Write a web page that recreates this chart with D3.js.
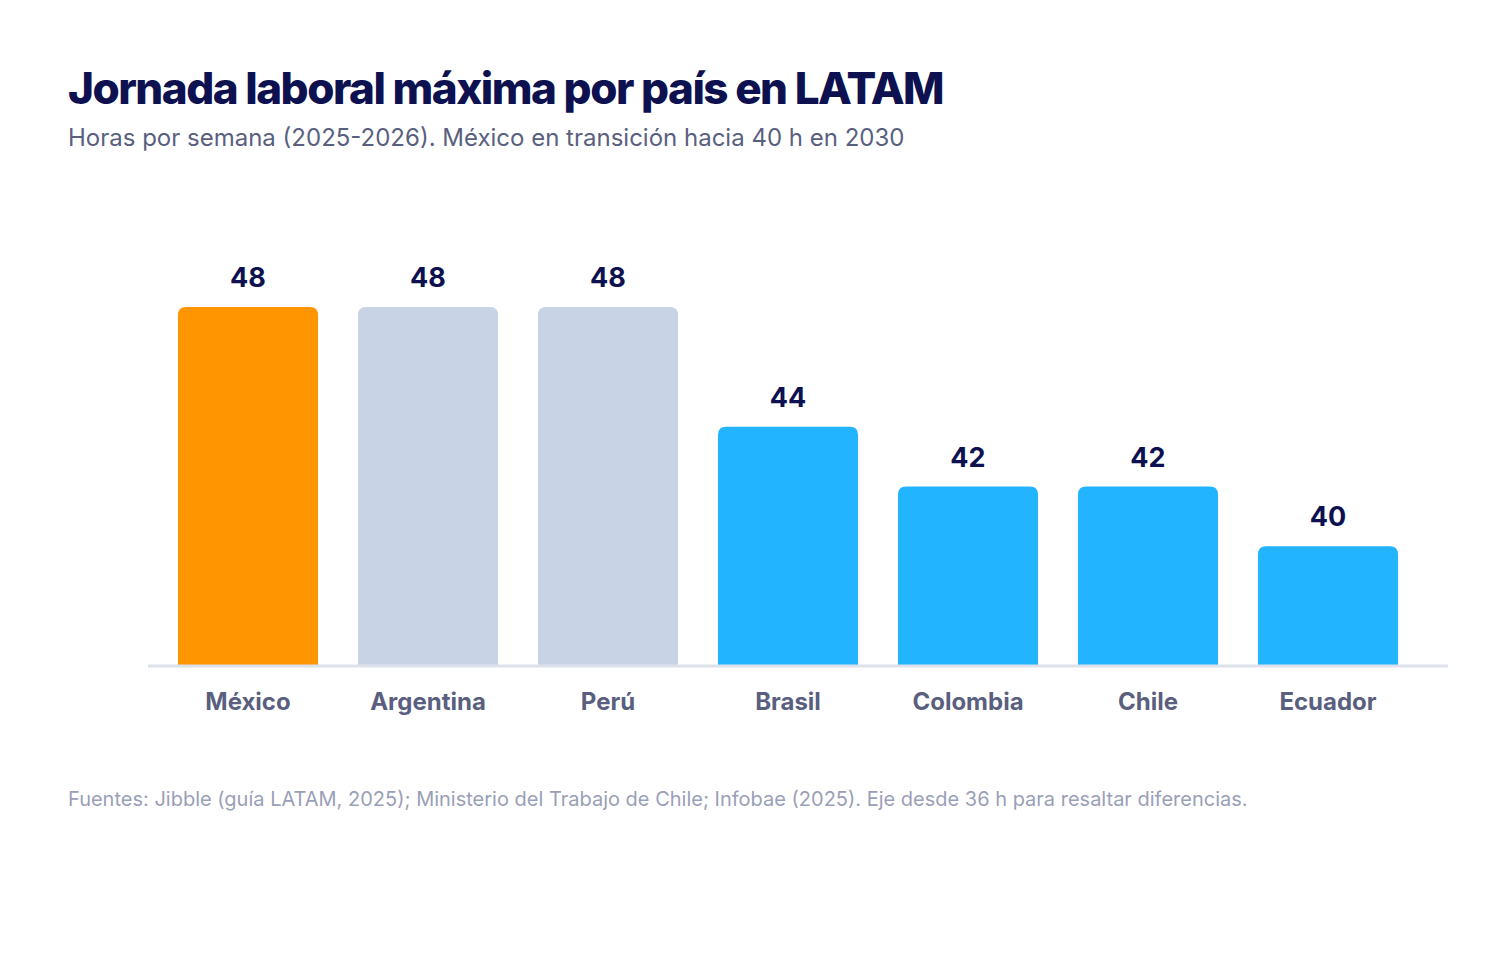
<!DOCTYPE html>
<html><head><meta charset="utf-8">
<script src="https://cdn.jsdelivr.net/npm/d3@7"></script>
<style>body{margin:0;background:#fff;font-family:Inter,"Noto Sans",sans-serif}</style>
</head><body>
<svg id="c" width="1491" height="970"></svg>
<script>
const categories = ["México","Argentina","Perú","Brasil","Colombia","Chile","Ecuador"];
const values = [48,48,48,44,42,42,40];
const groups = ["mx","ref","ref","other","other","other","other"];
const colors = {mx:"#ff9500", ref:"#c8d3e5", other:"#22b4ff"};

const svg = d3.select("#c");
svg.append("text").attr("x",68).attr("y",104).attr("font-size",44).attr("font-weight",800)
  .attr("letter-spacing",-1.5).attr("fill","#0d1150").text("Jornada laboral máxima por país en LATAM");
svg.append("text").attr("x",68).attr("y",146).attr("font-size",24).attr("fill","#5a5f80")
  .text("Horas por semana (2025-2026). México en transición hacia 40 h en 2030");

const x = d3.scaleBand().domain(categories).range([158,1418]).paddingInner(40/180).paddingOuter(20/180);
const y = d3.scaleLinear().domain([36,48]).range([666,307]);

const g = svg.append("g");
categories.forEach((c,i)=>{
  const x0=x(c), w=x.bandwidth(), y0=y(values[i]), h=666-y0, r=8;
  g.append("path").attr("fill",colors[groups[i]])
   .attr("d",`M${x0},${666}V${y0+r}Q${x0},${y0} ${x0+r},${y0}H${x0+w-r}Q${x0+w},${y0} ${x0+w},${y0+r}V666Z`);
  g.append("text").attr("x",x0+w/2).attr("y",y0-20).attr("text-anchor","middle")
   .attr("font-size",27).attr("font-weight",700).attr("fill","#0d1150").text(values[i]);
  g.append("text").attr("x",x0+w/2).attr("y",710).attr("text-anchor","middle")
   .attr("font-size",24).attr("font-weight",700).attr("fill","#5a5f80").text(c);
});
svg.append("line").attr("x1",148).attr("x2",1448).attr("y1",666).attr("y2",666)
  .attr("stroke","#dde1ec").attr("stroke-width",3);

svg.append("text").attr("x",68).attr("y",806).attr("font-size",20).attr("fill","#9a9fb8")
  .text("Fuentes: Jibble (guía LATAM, 2025); Ministerio del Trabajo de Chile; Infobae (2025). Eje desde 36 h para resaltar diferencias.");
</script>
</body></html>
